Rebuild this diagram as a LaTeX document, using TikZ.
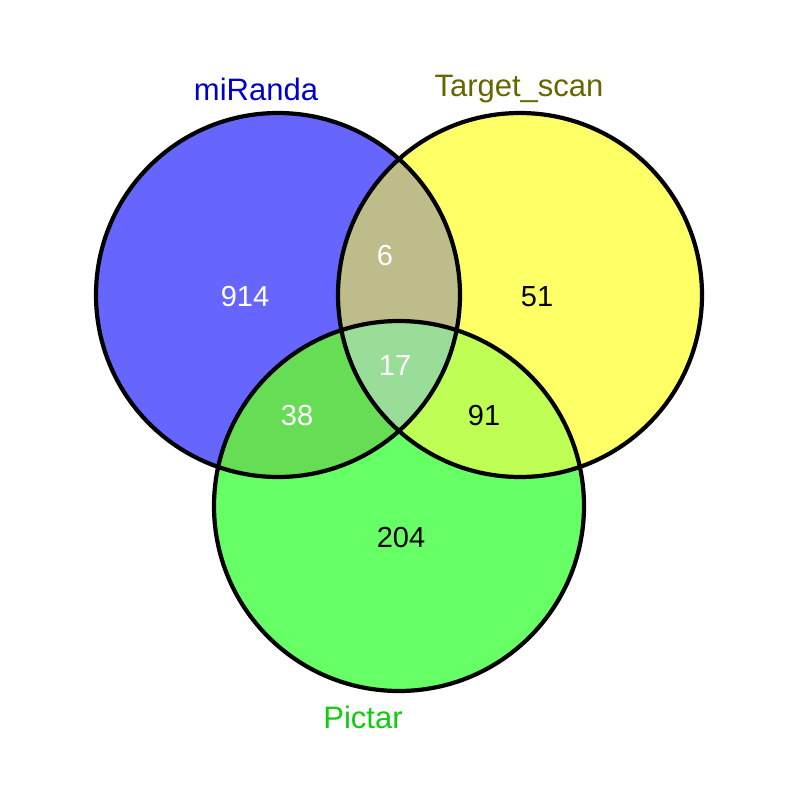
\documentclass[tikz,border=0pt]{standalone}
\usepackage{fontspec}
\setmainfont{Liberation Sans}
\definecolor{cBlue}{HTML}{6666FF}
\definecolor{cYellow}{HTML}{FFFF66}
\definecolor{cGreen}{HTML}{66FF66}
\definecolor{cBY}{HTML}{BFBC8C}
\definecolor{cBG}{HTML}{66DD55}
\definecolor{cYG}{HTML}{BFFF55}
\definecolor{cAll}{HTML}{99DD99}
\definecolor{tBlue}{HTML}{0000CC}
\definecolor{tOlive}{HTML}{666600}
\definecolor{tGreen}{HTML}{11CC11}
\tikzset{
  ring/.style={draw=black, line width=4.2pt},
  num/.style={font=\fontsize{29}{29}\selectfont, inner sep=0pt},
  setlabel/.style={font=\fontsize{31}{31}\selectfont, inner sep=0pt}
}
\begin{document}
\begin{tikzpicture}[x=1pt,y=-1pt]
\useasboundingbox (0,0) rectangle (799,805);
\fill[white] (0,0) rectangle (799,805);
\coordinate (A) at (278,295);
\coordinate (B) at (520,295);
\coordinate (C) at (399,506);
\def\rAB{182pt}
\def\rC{185pt}
\fill[cBlue] (A) circle[radius=\rAB];
\fill[cYellow] (B) circle[radius=\rAB];
\fill[cGreen] (C) circle[radius=\rC];
\begin{scope}
  \clip (A) circle[radius=\rAB];
  \fill[cBY] (B) circle[radius=\rAB];
  \fill[cBG] (C) circle[radius=\rC];
\end{scope}
\begin{scope}
  \clip (B) circle[radius=\rAB];
  \fill[cYG] (C) circle[radius=\rC];
\end{scope}
\begin{scope}
  \clip (A) circle[radius=\rAB];
  \clip (B) circle[radius=\rAB];
  \fill[cAll] (C) circle[radius=\rC];
\end{scope}
\draw[ring] (A) circle[radius=\rAB];
\draw[ring] (B) circle[radius=\rAB];
\draw[ring] (C) circle[radius=\rC];
\node[num, text=white] (n914) at (245,297) {914};
\node[num, text=white] (n6) at (385,256) {6};
\node[num, text=black] (n51) at (537,297) {51};
\node[num, text=white] (n17) at (395,366) {17};
\node[num, text=white] (n38) at (297,416) {38};
\node[num, text=black] (n91) at (484,416) {91};
\node[num, text=black] (n204) at (401,538) {204};
\node[setlabel, text=tBlue] (lA) at (256,89) {miRanda};
\node[setlabel, text=tOlive] (lB) at (519,89) {Target\_scan};
\node[setlabel, text=tGreen] (lC) at (363,717) {Pictar};
\end{tikzpicture}
\end{document}
